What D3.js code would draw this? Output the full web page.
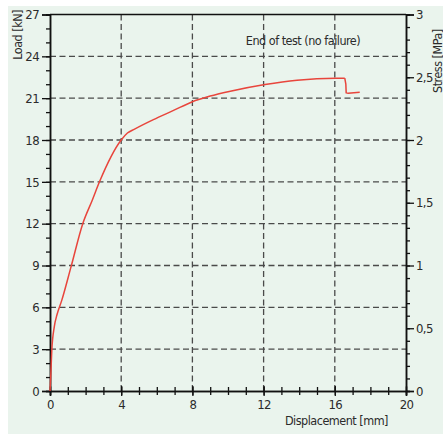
<!DOCTYPE html>
<html>
<head>
<meta charset="utf-8">
<script src="https://cdn.jsdelivr.net/npm/d3@7"></script>
<style>
  body { margin: 0; background: #fff; }
  text { font-family: "DejaVu Sans Condensed", "Liberation Sans Narrow", sans-serif; font-stretch: condensed; fill: #2b2b2b; }
</style>
</head>
<body>
<div id="chart"></div>
<script>
// values
const dispMm = [0, 0.04, 0.1, 0.24, 0.4, 0.66, 1.18, 1.84, 2.38, 2.78, 4.0, 4.35, 4.75, 5.81, 6.94, 7.97, 9.0, 10.13, 12.08, 13.88, 16.05, 16.56];
const loadKn = [0, 1.0, 2.9, 4.6, 5.5, 6.5, 8.9, 12.0, 13.7, 15.0, 18.0, 18.5, 18.78, 19.46, 20.12, 20.73, 21.15, 21.5, 21.98, 22.29, 22.43, 22.43];
// the drop at the end of the test
const tailMm = [16.56, 16.62, 16.64, 16.75, 17.4];
const tailKn = [22.43, 22.0, 21.38, 21.36, 21.42];

const loadTicks = [0, 3, 6, 9, 12, 15, 18, 21, 24, 27];
const stressTicks = [0, 0.5, 1, 1.5, 2, 2.5, 3];
const dispTicks = [0, 4, 8, 12, 16, 20];
const gridX = [4, 8, 12, 16];
const gridY = [3, 6, 9, 12, 15, 18, 21, 24];

const W = 443, H = 434;
const svg = d3.select("#chart").append("svg")
  .attr("width", W).attr("height", H);

svg.append("rect")
  .attr("x", 8).attr("y", 6)
  .attr("width", W - 8).attr("height", H - 6)
  .attr("fill", "#eaf4ed");

const x = d3.scaleLinear().domain([0, 20]).range([50, 406]);
const y = d3.scaleLinear().domain([0, 27]).range([391, 14.5]);
const yR = d3.scaleLinear().domain([0, 3]).range([391, 14.5]);

// grid
svg.append("g").selectAll("line").data(gridY).join("line")
  .attr("x1", x(0)).attr("x2", x(20))
  .attr("y1", d => y(d)).attr("y2", d => y(d))
  .attr("stroke", "#4a4a4a").attr("stroke-width", 1.3)
  .attr("stroke-dasharray", "6,3.5");
svg.append("g").selectAll("line").data(gridX).join("line")
  .attr("y1", y(0)).attr("y2", y(27))
  .attr("x1", d => x(d)).attr("x2", d => x(d))
  .attr("stroke", "#4a4a4a").attr("stroke-width", 1.3)
  .attr("stroke-dasharray", "6,3.5");

// top border
svg.append("line")
  .attr("x1", x(0)).attr("x2", x(20))
  .attr("y1", y(27)).attr("y2", y(27))
  .attr("stroke", "#111").attr("stroke-width", 1.5);

function styleAxis(g) {
  g.select(".domain").attr("stroke", "#111").attr("stroke-width", 1.5);
  g.selectAll(".tick line").attr("stroke", "#111").attr("stroke-width", 1.3);
  g.selectAll(".tick text").attr("font-size", 13).attr("letter-spacing", -0.6).style("fill", "#2b2b2b");
}

// left axis
svg.append("g").attr("transform", `translate(${x(0)},0)`)
  .call(d3.axisLeft(y).tickValues(d3.range(0, 28, 1)).tickSize(4).tickFormat(""))
  .call(styleAxis);
svg.append("g").attr("transform", `translate(${x(0)},0)`)
  .call(d3.axisLeft(y).tickValues(loadTicks).tickSize(8).tickPadding(3))
  .call(styleAxis);

// right axis
svg.append("g").attr("transform", `translate(${x(20)},0)`)
  .call(d3.axisRight(yR).tickValues(d3.range(0, 31, 1).map(d => d / 10)).tickSize(4).tickFormat(""))
  .call(styleAxis);
svg.append("g").attr("transform", `translate(${x(20)},0)`)
  .call(d3.axisRight(yR).tickValues(stressTicks).tickSize(8).tickPadding(2)
    .tickFormat(d => String(d).replace(".", ",")))
  .call(styleAxis);

// bottom axis, ticks crossing the line
const gx1 = svg.append("g").attr("transform", `translate(0,${y(0)})`)
  .call(d3.axisBottom(x).tickValues(d3.range(0, 21, 1)).tickSize(4).tickFormat(""))
  .call(styleAxis);
gx1.selectAll(".tick line").attr("y1", -4);
const gx2 = svg.append("g").attr("transform", `translate(0,${y(0)})`)
  .call(d3.axisBottom(x).tickValues(dispTicks).tickSize(5).tickPadding(4))
  .call(styleAxis);
gx2.selectAll(".tick line").attr("y1", -5);

// curve
const line = d3.line().x(d => x(d[0])).y(d => y(d[1]));
svg.append("path")
  .datum(dispMm.map((d, i) => [d, loadKn[i]]))
  .attr("fill", "none")
  .attr("stroke", "#e8453c")
  .attr("stroke-width", 1.5)
  .attr("d", line.curve(d3.curveMonotoneX));
svg.append("path")
  .datum(tailMm.map((d, i) => [d, tailKn[i]]))
  .attr("fill", "none")
  .attr("stroke", "#e8453c")
  .attr("stroke-width", 1.5)
  .attr("stroke-linejoin", "round")
  .attr("d", line.curve(d3.curveLinear));

// labels
function label(t, tr, anchor) {
  svg.append("text")
    .attr("transform", tr)
    .attr("text-anchor", anchor)
    .attr("font-size", 12.5)
    .attr("letter-spacing", -0.5)
    .text(t);
}
label("Load [kN]", "translate(22,10) rotate(-90)", "end");
label("Stress [MPa]", "translate(441.5,93) rotate(-90)", "start");
label("Displacement [mm]", "translate(388,425)", "end");
label("End of test (no failure)", "translate(303,45)", "middle");
</script>
</body>
</html>
